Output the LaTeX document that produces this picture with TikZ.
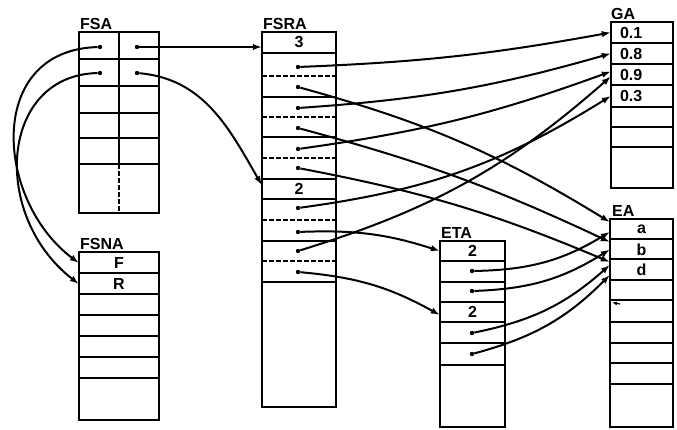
\documentclass[tikz,border=0pt]{standalone}
\usepackage{fontspec}
\setmainfont{Liberation Sans}
\usetikzlibrary{arrows.meta}

\begin{document}
\begin{tikzpicture}[x=1pt, y=-1pt,
  box/.style={line width=2.4pt},
  sep/.style={line width=2pt},
  dsep/.style={line width=2pt, dash pattern=on 4.5pt off 2.5pt},
  lbl/.style={anchor=base west, inner sep=0pt, font=\fontsize{16}{16}\selectfont\bfseries},
  val/.style={inner sep=0pt, minimum height=20pt, font=\fontsize{16}{16}\selectfont\bfseries},
  dot/.style={circle, fill, inner sep=0pt, minimum size=4.4pt},
  ptr/.style={line width=2pt, -{Latex[length=9pt,width=6.5pt]}}]
  \useasboundingbox (0,0) rectangle (677,429);
  % FSA
  \draw[box] (79,32) rectangle (159,213);
  \foreach \y in {59,86,113,138,164} \draw[sep] (79,\y) -- (159,\y);
  \draw[sep] (119,32) -- (119,164);
  \draw[dsep] (119,164) -- (119,213);
  \node[lbl] (fsa) at (80,29) {FSA};
  \node[dot] (fl1) at (100,47) {};
  \node[dot] (fl2) at (100,73) {};
  \node[dot] (fr1) at (137,47) {};
  \node[dot] (fr2) at (137,73) {};
  % FSNA
  \draw[box] (79,252) rectangle (159,420);
  \foreach \y in {273,294,315,336,357,378} \draw[sep] (79,\y) -- (159,\y);
  \node[lbl] (fsna) at (80,249) {FSNA};
  \node[val, minimum width=80pt] (nF) at (119,263) {F};
  \node[val, minimum width=80pt] (nR) at (119,284) {R};
  % FSRA
  \draw[box] (262,32) rectangle (336,407);
  \foreach \y in {53,97,137,179,199,241,282} \draw[sep] (262,\y) -- (336,\y);
  \foreach \y in {76,117,158,220,261} \draw[dsep] (262,\y) -- (336,\y);
  \node[lbl] (fsra) at (263,29) {FSRA};
  \node[val, minimum width=74pt] (fsra3) at (299,42.5) {3};
  \node[val, minimum width=74pt] (fsra2) at (299,189) {2};
  \foreach \n/\y in {1/67,2/87,3/108,4/128,5/149,6/168,8/208,9/232,10/251,11/272}
    \node[dot] (p\n) at (298,\y) {};
  % GA
  \draw[box] (611,22) rectangle (673,188);
  \foreach \y in {43,64,85,107,127,147} \draw[sep] (611,\y) -- (673,\y);
  \node[lbl] (ga) at (611,19) {GA};
  \foreach \n/\y/\t in {1/32.5/0.1,2/53.5/0.8,3/74.5/0.9,4/96/0.3}
    \node[val, minimum width=62pt, text width=44pt, align=left] (g\n) at (642,\y) {\t};
  % ETA
  \draw[box] (440,241) rectangle (505,427);
  \foreach \y in {261,282,302,322,343,365} \draw[sep] (440,\y) -- (505,\y);
  \node[lbl] (eta) at (441,238) {ETA};
  \node[val, minimum width=65pt] (eta1) at (472.5,251) {2};
  \node[val, minimum width=65pt] (eta4) at (472.5,312) {2};
  \foreach \n/\y in {1/271,2/291,4/333,5/354}
    \node[dot] (q\n) at (472,\y) {};
  % EA
  \draw[box] (610,219) rectangle (673,427);
  \foreach \y in {239,259,280,300,322,343,363,384} \draw[sep] (610,\y) -- (673,\y);
  \node[lbl] (ea) at (612,216) {EA};
  \foreach \n/\y/\t in {1/229/a,2/249.5/b,3/270/d}
    \node[val, minimum width=63pt] (ea\n) at (641.5,\y) {\t};
  \coordinate (tk) at (620,304);
  \coordinate (tk0) at (612,302.5);
  % pointers out of FSA
  \draw[ptr] (fr1) -- (fsra3.west |- fr1);
  \draw[ptr] (fr2) to[out=-5, in=120] ([yshift=4pt]fsra2.west);
  \draw[ptr] (fl1) .. controls (-15,50) and (-5,200) .. (nF.west);
  \draw[ptr] (fl2) .. controls (0,75) and (-10,215) .. (nR.west);
  % FSRA to GA
  \draw[ptr] (p1) to[bend right=4] (g1.west);
  \draw[ptr] (p3) to[bend right=6] (g2.west);
  \draw[ptr] (p5) to[bend right=6] ([yshift=3pt]g3.west);
  \draw[ptr] (p8) to[bend right=12] (g4.west);
  \draw[ptr] (p10) to[bend right=12] ([yshift=-2pt]g3.west);
  % FSRA to EA and ETA
  \draw[ptr] (p2) to[bend left=8] ([yshift=7pt]ea1.west);
  \draw[ptr] (p4) to[bend left=5] ([yshift=7.5pt]ea2.west);
  \draw[ptr] (p6) to[bend left=6] ([yshift=8pt]ea3.west);
  \draw[ptr] (p9) to[bend left=10] (eta1.west);
  \draw[ptr] (p11) to[bend left=12] ([yshift=-3pt]eta4.west);
  % ETA to EA
  \draw[ptr] (q1) to[bend right=15] ([yshift=-3pt]ea1.west);
  \draw[ptr] (q2) to[bend right=15] (ea2.west);
  \draw[ptr] (q4) to[bend right=15] ([yshift=5pt]ea3.west);
  \draw[ptr] (q5) to[bend right=15] ([yshift=-5pt]ea3.west);
  \draw[line width=1.2pt, -{Latex[length=5pt,width=4pt]}] (tk) -- (tk0);
\end{tikzpicture}
\end{document}
